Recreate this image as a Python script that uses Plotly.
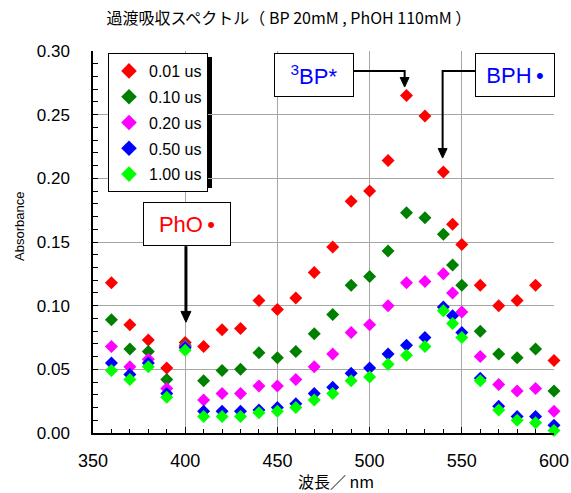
import plotly.graph_objects as go

# Wavelengths (nm)
wavelength = [360, 370, 380, 390, 400, 410, 420, 430, 440, 450, 460, 470, 480,
              490, 500, 510, 520, 530, 540, 545, 550, 560, 570, 580, 590, 600]

# Absorbance at each delay time
abs_001us = [0.118, 0.085, 0.073, 0.051, 0.071, 0.068, 0.081, 0.082, 0.104, 0.097,
             0.106, 0.126, 0.146, 0.182, 0.190, 0.214, 0.265, 0.249, 0.205, 0.164,
             0.148, 0.116, 0.100, 0.104, 0.116, 0.057]
abs_010us = [0.089, 0.066, 0.064, 0.042, 0.069, 0.041, 0.049, 0.050, 0.063, 0.059,
             0.064, 0.078, 0.093, 0.116, 0.123, 0.143, 0.173, 0.169, 0.156, 0.132,
             0.116, 0.080, 0.062, 0.059, 0.066, 0.033]
abs_020us = [0.068, 0.052, 0.058, 0.035, 0.068, 0.026, 0.031, 0.031, 0.037, 0.037,
             0.042, 0.052, 0.062, 0.079, 0.085, 0.100, 0.118, 0.119, 0.125, 0.110,
             0.095, 0.060, 0.038, 0.033, 0.035, 0.017]
abs_050us = [0.055, 0.046, 0.055, 0.031, 0.067, 0.017, 0.017, 0.017, 0.018, 0.020,
             0.023, 0.031, 0.036, 0.047, 0.051, 0.062, 0.069, 0.075, 0.099, 0.092,
             0.079, 0.043, 0.021, 0.013, 0.013, 0.006]
abs_100us = [0.049, 0.042, 0.052, 0.028, 0.065, 0.013, 0.013, 0.013, 0.016, 0.017,
             0.020, 0.026, 0.031, 0.041, 0.044, 0.054, 0.061, 0.068, 0.096, 0.086,
             0.075, 0.041, 0.018, 0.010, 0.008, 0.002]

series_names = ["0.01 us", "0.10 us", "0.20 us", "0.50 us", "1.00 us"]
series_values = [abs_001us, abs_010us, abs_020us, abs_050us, abs_100us]
series_colors = ["#ff0000", "#008000", "#ff00ff", "#0000ff", "#00ff00"]

LATIN = "Liberation Sans, Arial, sans-serif"
CJK = "Noto Sans CJK JP, sans-serif"

fig = go.Figure()
for i, (name, vals, col) in enumerate(zip(series_names, series_values, series_colors)):
    fig.add_trace(go.Scatter(
        x=wavelength, y=vals, mode="markers", name=name,
        legendgroup=f"g{i}",
        marker=dict(symbol="diamond", size=10, color=col, line=dict(width=0)),
        cliponaxis=False,
    ))

grid = "#a6a6a6"
fig.update_xaxes(
    range=[350, 600], dtick=50, tick0=350, automargin=False,
    showline=True, linecolor="black", linewidth=1.5,
    showgrid=True, gridcolor=grid, gridwidth=1, zeroline=False,
    ticks="inside", ticklen=6, tickcolor="black", tickwidth=1,
    minor=dict(dtick=10, ticks="inside", ticklen=4, tickcolor="black", showgrid=False),
    tickfont=dict(family=LATIN, size=18, color="black"),
    ticklabelstandoff=11,
)
fig.update_yaxes(
    range=[0, 0.30], dtick=0.05, tick0=0, tickformat=".2f", automargin=False,
    showline=True, linecolor="black", linewidth=1.5,
    showgrid=True, gridcolor=grid, gridwidth=1, zeroline=False,
    ticks="inside", ticklen=5, tickcolor="black", tickwidth=1,
    minor=dict(dtick=0.01, ticks="inside", ticklen=5, tickcolor="black", showgrid=False),
    tickfont=dict(family=LATIN, size=17, color="black"),
    ticklabelstandoff=18,
)

# Pixel -> paper helpers for the 93..554 x 51..433 plot area
def px_to_paper_x(px):
    return (px - 93) / 461
def px_to_paper_y(py):
    return (433 - py) / 382

# Arrow connector lines (data units)
line_paths = [
    ("M 491.4,0.2843 H 519.0 V 0.278", 2),
    ("M 557.4,0.2843 H 539.6 V 0.222", 2),
    ("M 400.4,0.1467 V 0.094", 3),
]
shapes = [dict(type="path", path=p, xref="x", yref="y",
               line=dict(color="black", width=w)) for p, w in line_paths]

# Arrow heads: filled triangles, tip at (x, y)
def arrow_head(x, y, half_w=2.4, length=0.0075):
    return dict(type="path", xref="x", yref="y",
                path=f"M {x - half_w},{y + length} L {x + half_w},{y + length} L {x},{y} Z",
                fillcolor="black", line=dict(color="black", width=1))

shapes += [arrow_head(519.0, 0.2717), arrow_head(539.6, 0.2159),
           arrow_head(400.4, 0.087, half_w=2.7, length=0.0085)]

# Legend drop shadow (offset 4 px right/down from the legend frame)
legend_left = 108
legend_box = dict(x0=legend_left, x1=208, y0=53, y1=184)
shapes.append(dict(type="rect", xref="paper", yref="paper", layer="below",
                   x0=px_to_paper_x(legend_box["x0"] + 4), x1=px_to_paper_x(legend_box["x1"] + 4),
                   y0=px_to_paper_y(legend_box["y1"] + 4), y1=px_to_paper_y(legend_box["y0"] + 4),
                   fillcolor="black", line=dict(width=0)))

label_box = dict(bgcolor="white", bordercolor="black", borderwidth=1, borderpad=0, height=42)
annotations = [
    dict(x=469.7, y=0.2811, xref="x", yref="y", showarrow=False, width=78,
         text="<sup>3</sup>BP*", font=dict(family=LATIN, size=22, color="#0000ff"), **label_box),
    dict(x=579.1, y=0.2811, xref="x", yref="y", showarrow=False, width=78,
         text="BPH\u2009•", font=dict(family=LATIN, size=22, color="#0000ff"), **label_box),
    dict(x=400.9, y=0.164, xref="x", yref="y", showarrow=False, width=86,
         text="PhO\u2009•", font=dict(family=LATIN, size=22, color="#ff0000"), **label_box),
    # axis titles
    dict(x=px_to_paper_x(336), y=px_to_paper_y(481), xref="paper", yref="paper",
         xanchor="center", yanchor="middle", showarrow=False,
         text="波長／ nm", font=dict(family=CJK, size=16, color="black")),
    dict(x=px_to_paper_x(19), y=px_to_paper_y(227), xref="paper", yref="paper",
         xanchor="center", yanchor="middle", showarrow=False, textangle=-90,
         text="Absorbance", font=dict(family=LATIN, size=13, color="black")),
]

fig.update_layout(
    width=571, height=493,
    margin=dict(l=93, r=17, t=51, b=60, autoexpand=False),
    paper_bgcolor="white", plot_bgcolor="white",
    title=dict(text="過渡吸収スペクトル（ BP 20mM , PhOH 110mM ）",
               font=dict(family=CJK, size=16, color="black"),
               x=0.506, xanchor="center", y=0.963, yanchor="middle"),
    legend=dict(x=px_to_paper_x(legend_left), y=px_to_paper_y(53), xanchor="left", yanchor="top",
                bgcolor="white", bordercolor="black", borderwidth=1,
                font=dict(family=LATIN, size=16, color="black"),
                tracegroupgap=2, itemsizing="constant"),
    shapes=shapes,
    annotations=annotations,
)

fig.write_html("out.html")
